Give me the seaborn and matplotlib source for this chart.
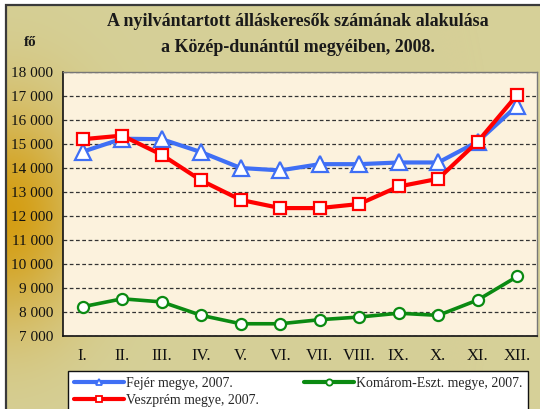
import numpy as np
import matplotlib
matplotlib.use("Agg")
import matplotlib.pyplot as plt
import seaborn as sns
from matplotlib.patches import Rectangle

# data
months = ["I.", "II.", "III.", "IV.", "V.", "VI.", "VII.", "VIII.", "IX.", "X.", "XI.", "XII."]
fejer = [14680, 15220, 15200, 14660, 14000, 13900, 14160, 14160, 14230, 14230, 15100, 16600]
veszprem = [15200, 15350, 14550, 13480, 12670, 12330, 12330, 12500, 13230, 13550, 15100, 17050]
komarom = [8220, 8550, 8420, 7860, 7510, 7510, 7680, 7790, 7950, 7860, 8500, 9480]

labels = ["Fejér megye, 2007.", "Veszprém megye, 2007.", "Komárom-Eszt. megye, 2007."]

sns.set_theme(style="white")
plt.rcParams['font.family'] = ['Liberation Serif', 'DejaVu Serif']

W, H = 540, 409
fig = plt.figure(figsize=(W / 100, H / 100), dpi=100)
fig.patch.set_facecolor("white")

# khaki background with a golden glow on the left side
bg = fig.add_axes([6 / W, 0, 1 - 6 / W, 1 - 5 / H], zorder=-5)
yy, xx = np.mgrid[5:H, 6:W]
w = np.exp(-((xx - 6) / 80.0) ** 2) * np.exp(-((yy - 215) / 110.0) ** 2)
khaki = np.array([214, 208, 152]) / 255
gold = np.array([212, 158, 20]) / 255
img = khaki[None, None, :] * (1 - w[..., None]) + gold[None, None, :] * w[..., None]
bg.imshow(img, aspect="auto", extent=[0, 1, 0, 1])
bg.axis("off")

# frame around the chart
fig.add_artist(Rectangle((6 / W, -0.05), 1.0, 1 - 5 / H + 0.05, transform=fig.transFigure,
                         fill=False, edgecolor="#3a3a3a", lw=1.6, clip_on=False))

ax = fig.add_axes([63 / W, 1 - 336 / H, (537 - 63) / W, (336 - 72) / H])
ax.set_facecolor("#fcf2dd")

x = np.arange(len(months))
sns.lineplot(x=x, y=fejer, ax=ax, color="#3f6ff5", lw=3.0, marker="^", markersize=11,
             markerfacecolor="white", markeredgecolor="#3f6ff5", markeredgewidth=1.6,
             label=labels[0])
sns.lineplot(x=x, y=veszprem, ax=ax, color="#ff0000", lw=3.0, marker="s", markersize=9,
             markerfacecolor="white", markeredgecolor="#ff0000", markeredgewidth=1.6,
             label=labels[1])
sns.lineplot(x=x, y=komarom, ax=ax, color="#0b8a12", lw=2.6, marker="o", markersize=8,
             markerfacecolor="white", markeredgecolor="#0b8a12", markeredgewidth=1.6,
             label=labels[2])

ax.set_xlim(-0.5, 11.5)
ax.set_ylim(7000, 18000)
ax.set_yticks(np.arange(7000, 18001, 1000))
ax.set_yticklabels([f"{v:,}".replace(",", " ") for v in range(7000, 18001, 1000)])
ax.set_xticks(np.arange(-0.5, 12, 1))
ax.set_xticklabels([])
ax.set_xticks(x, minor=True)
ax.set_xticklabels(months, minor=True)
ax.tick_params(axis="x", which="major", direction="out", length=5, width=1, color="#333")
ax.tick_params(axis="x", which="minor", length=0, pad=9, labelsize=12, labelcolor="#111")
ax.tick_params(axis="y", direction="out", length=5, width=1, color="#111", pad=2,
               labelsize=11, labelcolor="#111")
ax.yaxis.grid(True, linestyle=(0, (3, 2)), color="#333", lw=0.9)
ax.set_axisbelow(True)
for side in ["left", "bottom"]:
    ax.spines[side].set_color("#111")
    ax.spines[side].set_linewidth(1.2)
for side in ["top", "right"]:
    ax.spines[side].set_color("#777")
    ax.spines[side].set_linewidth(1.0)
ax.set_xlabel("")
ax.set_ylabel("")

leg = ax.legend(loc="upper left", bbox_to_anchor=(68 / W, 1 - 371 / H),
                bbox_transform=fig.transFigure, ncol=2, frameon=True, fancybox=False,
                edgecolor="#111", facecolor="white", framealpha=1, fontsize=10,
                handlelength=3.6, handletextpad=0.2, columnspacing=3.2,
                borderpad=0.4, labelspacing=0.3, borderaxespad=0)
leg.get_frame().set_linewidth(1.0)
for h in leg.legend_handles:
    h.set_markersize(4.5)
    h.set_markeredgewidth(1.3)
    h.set_linewidth(3.0)

fig.text(298 / W, 1 - 22 / H, "A nyilvántartott álláskeresők számának alakulása",
         ha="center", va="center", fontsize=13, fontweight="bold", color="#1a1a1a")
fig.text(298 / W, 1 - 48 / H, "a Közép-dunántúl megyéiben, 2008.",
         ha="center", va="center", fontsize=13, fontweight="bold", color="#1a1a1a")
fig.text(30 / W, 1 - 42 / H, "fő", ha="center", va="center", fontsize=11,
         fontweight="bold", color="#1a1a1a")

fig.savefig("out.png", dpi=100)
